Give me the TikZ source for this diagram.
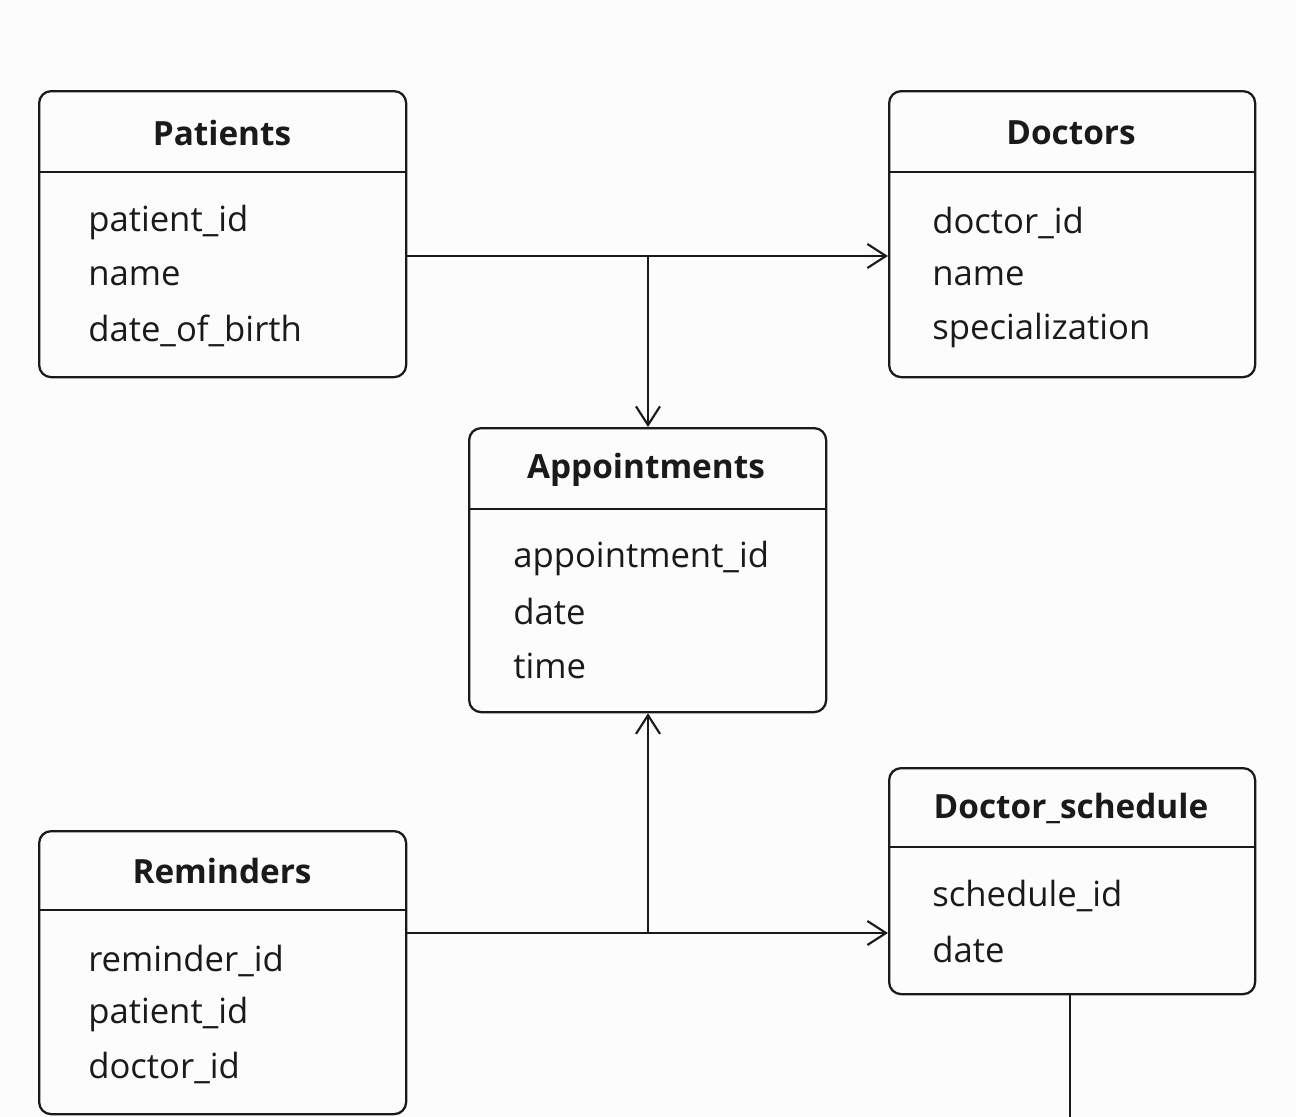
\documentclass[tikz,border=0pt]{standalone}
\usepackage{fontspec}
\setmainfont{Open Sans}
\usetikzlibrary{arrows.meta}
\definecolor{ink}{HTML}{1A1A1A}
\definecolor{bg}{HTML}{FCFCFC}
\tikzset{
  entity/.style={draw=ink, line width=1.7pt, rounded corners=9pt, anchor=north west, inner sep=0pt},
  title/.style={font=\fontsize{25}{30}\selectfont\bfseries, text=ink, anchor=center, inner sep=0pt},
  attr/.style={font=\fontsize{26}{31}\selectfont, text=ink, anchor=west, inner sep=0pt, yshift=-2pt},
  divider/.style={draw=ink, line width=1.7pt},
  conn/.style={draw=ink, line width=1.6pt},
  arr/.style={conn, -{Straight Barb[length=14pt,width=18pt,line width=1.6pt]}}
}
\begin{document}
\begin{tikzpicture}[x=0.75pt,y=-0.75pt]
\fill[bg] (0,0) rectangle (1296,1117);
\useasboundingbox (0,0) rectangle (1296,1117);

% Patients
\node[entity, minimum width=367*0.75pt, minimum height=286*0.75pt] (patients) at (38,90) {};
\draw[divider] (38,172) -- (405,172);
\node[title] (patientsT) at (222,133) {Patients};
\node[attr] (p1) at (88,220) {patient\_id};
\node[attr] (p2) at (88,274) {name};
\node[attr] (p3) at (88,328) {date\_of\_birth};

% Doctors
\node[entity, minimum width=366*0.75pt, minimum height=286*0.75pt] (doctors) at (888,90) {};
\draw[divider] (888,172) -- (1254,172);
\node[title] (doctorsT) at (1071,133) {Doctors};
\node[attr] (d1) at (932,220) {doctor\_id};
\node[attr] (d2) at (932,274) {name};
\node[attr] (d3) at (932,328) {specialization};

% Appointments
\node[entity, minimum width=357*0.75pt, minimum height=284*0.75pt] (appointments) at (468,427) {};
\draw[divider] (468,509) -- (825,509);
\node[title] (appointmentsT) at (646,470) {Appointments};
\node[attr] (a1) at (513,556) {appointment\_id};
\node[attr] (a2) at (513,609) {date};
\node[attr] (a3) at (513,663) {time};

% Reminders
\node[entity, minimum width=367*0.75pt, minimum height=283*0.75pt] (reminders) at (38,830) {};
\draw[divider] (38,910) -- (405,910);
\node[title] (remindersT) at (222,871) {Reminders};
\node[attr] (r1) at (88,958) {reminder\_id};
\node[attr] (r2) at (88,1012) {patient\_id};
\node[attr] (r3) at (88,1065) {doctor\_id};

% Doctor_schedule
\node[entity, minimum width=366*0.75pt, minimum height=226*0.75pt] (schedule) at (888,767) {};
\draw[divider] (888,847) -- (1254,847);
\node[title] (scheduleT) at (1071,808) {Doctor\_schedule};
\node[attr] (s1) at (932,893) {schedule\_id};
\node[attr] (s2) at (932,947) {date};

% Connectors
\coordinate (j1) at (648,256);
\coordinate (j2) at (648,933);
\coordinate (send) at (1070,1117);
\draw[arr] (patients.east |- j1) -- (doctors.west |- j1);
\draw[arr] (j1) -- (j1 |- appointments.north);
\draw[arr] (reminders.east |- j2) -- (schedule.west |- j2);
\draw[arr] (j2) -- (j2 |- appointments.south);
\draw[conn] (send |- schedule.south) -- (send);
\end{tikzpicture}
\end{document}
